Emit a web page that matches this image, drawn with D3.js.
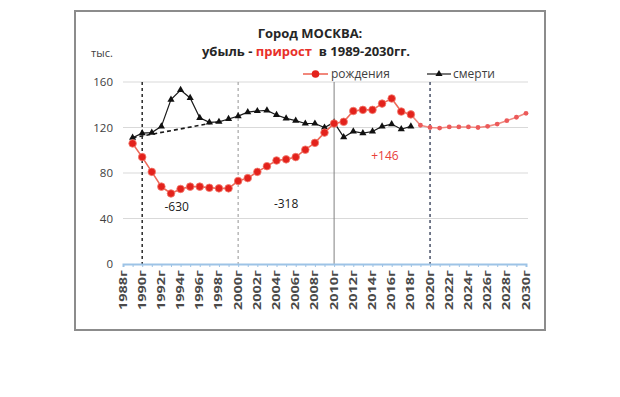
<!DOCTYPE html>
<html>
<head>
<meta charset="utf-8">
<script src="https://cdn.jsdelivr.net/npm/d3@7"></script>
<style>
  body { margin: 0; background: #fff; }
  text { font-family: "Open Sans", "Liberation Sans", sans-serif; }
</style>
</head>
<body>
<svg></svg>
<script>
var years = [1988, 1989, 1990, 1991, 1992, 1993, 1994, 1995, 1996, 1997, 1998, 1999,
  2000, 2001, 2002, 2003, 2004, 2005, 2006, 2007, 2008, 2009, 2010, 2011, 2012,
  2013, 2014, 2015, 2016, 2017, 2018, 2019, 2020, 2021, 2022, 2023, 2024, 2025,
  2026, 2027, 2028, 2029, 2030];

// рождения, факт 1989-2018
var birthYears = [1989, 1990, 1991, 1992, 1993, 1994, 1995, 1996, 1997, 1998, 1999,
  2000, 2001, 2002, 2003, 2004, 2005, 2006, 2007, 2008, 2009, 2010, 2011, 2012,
  2013, 2014, 2015, 2016, 2017, 2018];
var births = [106, 94, 81, 68, 62, 66, 68, 68, 67, 66.5, 66.5,
  73, 75.5, 81, 86, 91, 92, 94, 100.5, 106.5, 115.5, 123.5, 125, 134.5,
  135.5, 135.5, 141, 145.5, 134, 131.5];

// рождения, прогноз 2019-2030
var forecastYears = [2019, 2020, 2021, 2022, 2023, 2024, 2025, 2026, 2027, 2028, 2029, 2030];
var forecast = [122, 120, 119.5, 120.5, 120.5, 120.5, 120, 121, 123, 126, 129, 132.5];

// смерти 1989-2018
var deathYears = birthYears;
var deaths = [111, 115, 115.5, 121, 144.5, 153, 146, 128.5, 124.5, 125, 127.5,
  130, 133.5, 134.5, 135, 131, 128, 126, 123.5, 123.5, 120, 124.5, 111.5, 116.5,
  115, 116.5, 121, 123, 118.5, 121];

// пунктир-тренд смертности
var trendYears = [1989, 1998];
var trend = [111, 125];

var yTicks = [0, 40, 80, 120, 160];
var xTickLabels = ["1988г", "1990г", "1992г", "1994г", "1996г", "1998г", "2000г",
  "2002г", "2004г", "2006г", "2008г", "2010г", "2012г", "2014г", "2016г", "2018г",
  "2020г", "2022г", "2024г", "2026г", "2028г", "2030г"];
var markerYears = [1990, 2000, 2010, 2020];

var notes = [
  { text: "-630", year: 1993.6, value: 50 },
  { text: "-318", year: 2005, value: 53 },
  { text: "+146", year: 2015.3, value: 95 }
];

var width = 620,
  height = 397;

var svg = d3.select("svg")
  .attr("width", width)
  .attr("height", height);

// рамка
svg.append("rect")
  .attr("x", 75)
  .attr("y", 11)
  .attr("width", 470)
  .attr("height", 319)
  .attr("fill", "#fff")
  .attr("stroke", "#8c8c8c")
  .attr("stroke-width", 2);

var x = d3.scaleLinear().domain([1988, 2030]).range([123, 526]);
var y = d3.scaleLinear().domain([0, 160]).range([264, 82]);

var g = svg.append("g");

// сетка
g.append("g")
  .selectAll("line")
  .data(yTicks.filter(function(d) { return d > 0; }))
  .enter().append("line")
  .attr("x1", x(1988))
  .attr("x2", x(2030) + 2)
  .attr("y1", function(d) { return y(d); })
  .attr("y2", function(d) { return y(d); })
  .attr("stroke", "#d9d9d9")
  .attr("stroke-width", 1);

g.append("g")
  .selectAll("text")
  .data(yTicks)
  .enter().append("text")
  .attr("x", 113)
  .attr("y", function(d) { return y(d); })
  .attr("dy", "0.35em")
  .attr("text-anchor", "end")
  .attr("font-size", 11.5)
  .attr("fill", "#404040")
  .text(function(d) { return d; });

// вертикальные разделители
var markerStyle = [
  { color: "#1a1a1a", dash: "3,3", w: 1.4 },
  { color: "#a6a6a6", dash: "3,3", w: 1.2 },
  { color: "#808080", dash: null, w: 1 },
  { color: "#2b3650", dash: "3,3", w: 1.3 }
];
g.append("g")
  .selectAll("line")
  .data(markerYears)
  .enter().append("line")
  .attr("x1", function(d) { return x(d); })
  .attr("x2", function(d) { return x(d); })
  .attr("y1", y(160))
  .attr("y2", y(0))
  .attr("stroke", function(d, i) { return markerStyle[i].color; })
  .attr("stroke-width", function(d, i) { return markerStyle[i].w; })
  .attr("stroke-dasharray", function(d, i) { return markerStyle[i].dash; });

// ось 0
var xAxis = d3.axisBottom(x)
  .tickValues(years)
  .tickSize(3)
  .tickFormat("");
var axisG = g.append("g")
  .attr("transform", "translate(0," + y(0) + ")")
  .call(xAxis);
axisG.select(".domain").attr("stroke", "#9dc3e6").attr("stroke-width", 2);
axisG.selectAll(".tick line").attr("stroke", "#9dc3e6");

g.append("g")
  .selectAll("text")
  .data(xTickLabels)
  .enter().append("text")
  .attr("transform", function(d) {
    return "translate(" + x(+d.slice(0, 4)) + "," + (y(0) + 6) + ") rotate(-90)";
  })
  .attr("dy", "0.35em")
  .attr("text-anchor", "end")
  .attr("font-size", 10)
  .attr("font-weight", "bold")
  .attr("textLength", 40)
  .attr("lengthAdjust", "spacingAndGlyphs")
  .attr("fill", "#4a4a4a")
  .text(function(d) { return d; });

// линии
var line = d3.line()
  .x(function(d) { return x(d[0]); })
  .y(function(d) { return y(d[1]); });

var deathPts = d3.zip(deathYears, deaths);
var birthPts = d3.zip(birthYears, births);
var forecastPts = d3.zip(forecastYears, forecast);

g.append("path")
  .datum(d3.zip(trendYears, trend))
  .attr("d", line)
  .attr("fill", "none")
  .attr("stroke", "#1a1a1a")
  .attr("stroke-width", 1.6)
  .attr("stroke-dasharray", "4,3");

g.append("path")
  .datum(deathPts)
  .attr("d", line)
  .attr("fill", "none")
  .attr("stroke", "#1a1a1a")
  .attr("stroke-width", 1.2);

g.append("g")
  .selectAll("path")
  .data(deathPts)
  .enter().append("path")
  .attr("d", d3.symbol().type(d3.symbolTriangle).size(22))
  .attr("transform", function(d) { return "translate(" + x(d[0]) + "," + y(d[1]) + ")"; })
  .attr("fill", "#111");

g.append("path")
  .datum([birthPts[birthPts.length - 1]].concat(forecastPts))
  .attr("d", line)
  .attr("fill", "none")
  .attr("stroke", "#f08a80")
  .attr("stroke-width", 1.6);

g.append("path")
  .datum(birthPts)
  .attr("d", line)
  .attr("fill", "none")
  .attr("stroke", "#ee6a5a")
  .attr("stroke-width", 1.6);

g.append("g")
  .selectAll("circle")
  .data(forecastPts)
  .enter().append("circle")
  .attr("cx", function(d) { return x(d[0]); })
  .attr("cy", function(d) { return y(d[1]); })
  .attr("r", 2.4)
  .attr("fill", "#ec5a5a");

g.append("g")
  .selectAll("circle")
  .data(birthPts)
  .enter().append("circle")
  .attr("cx", function(d) { return x(d[0]); })
  .attr("cy", function(d) { return y(d[1]); })
  .attr("r", 3.8)
  .attr("fill", "#e3221c")
  .attr("stroke", "#f27c70")
  .attr("stroke-width", 0.8);

// подписи
g.append("g")
  .selectAll("text")
  .data(notes)
  .enter().append("text")
  .attr("x", function(d) { return x(d.year); })
  .attr("y", function(d) { return y(d.value); })
  .attr("dy", "0.35em")
  .attr("text-anchor", "middle")
  .attr("font-size", 12)
  .attr("fill", function(d) { return d.text[0] === "+" ? "#e8403a" : "#1a1a1a"; })
  .text(function(d) { return d.text; });

// заголовок
svg.append("text")
  .attr("x", 310)
  .attr("y", 33)
  .attr("dy", "0.35em")
  .attr("text-anchor", "middle")
  .attr("font-size", 13)
  .attr("font-weight", "bold")
  .attr("fill", "#262626")
  .text("Город МОСКВА:");

var sub = svg.append("text")
  .attr("x", 306)
  .attr("y", 51)
  .attr("dy", "0.35em")
  .attr("text-anchor", "middle")
  .attr("font-size", 13)
  .attr("font-weight", "bold")
  .attr("fill", "#262626")
  .attr("xml:space", "preserve");
sub.append("tspan").text("убыль - ");
sub.append("tspan").attr("fill", "#e8302a").text("прирост");
sub.append("tspan").text("  в 1989-2030гг.");

svg.append("text")
  .attr("x", 91)
  .attr("y", 53)
  .attr("dy", "0.35em")
  .attr("font-size", 11)
  .attr("fill", "#404040")
  .text("тыс.");

// легенда
var legend = svg.append("g").attr("transform", "translate(0,74)");
legend.append("line")
  .attr("x1", 303).attr("x2", 328)
  .attr("stroke", "#ee6a5a").attr("stroke-width", 1.6);
legend.append("circle")
  .attr("cx", 315.5).attr("r", 3.8)
  .attr("fill", "#e3221c");
legend.append("text")
  .attr("x", 331).attr("dy", "0.35em")
  .attr("font-size", 12).attr("fill", "#404040")
  .text("рождения");
legend.append("line")
  .attr("x1", 427).attr("x2", 451)
  .attr("stroke", "#1a1a1a").attr("stroke-width", 1.2);
legend.append("path")
  .attr("d", d3.symbol().type(d3.symbolTriangle).size(22))
  .attr("transform", "translate(439,0)")
  .attr("fill", "#111");
legend.append("text")
  .attr("x", 453).attr("dy", "0.35em")
  .attr("font-size", 12).attr("fill", "#404040")
  .text("смерти");
</script>
</body>
</html>
